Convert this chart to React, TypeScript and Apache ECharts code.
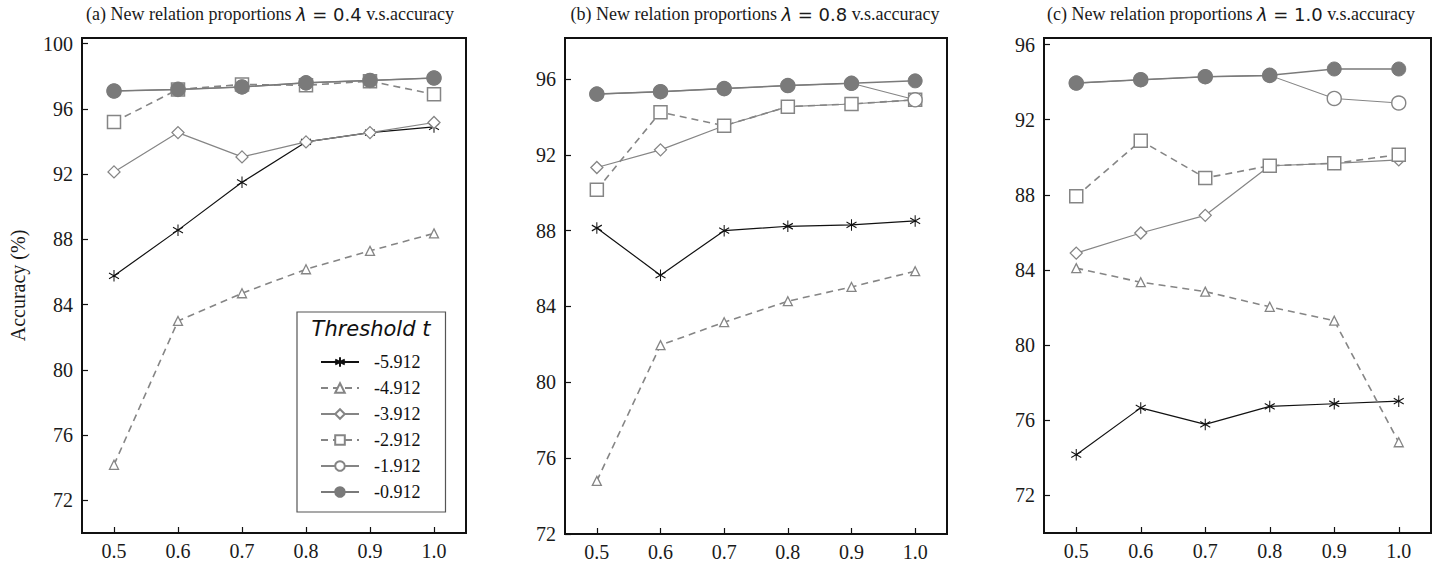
import React, { useEffect, useRef } from "react";
import * as echarts from "echarts";

// ---------- data ----------
const xValues = [0.5, 0.6, 0.7, 0.8, 0.9, 1.0];
const xTicks = [0.5, 0.6, 0.7, 0.8, 0.9, 1.0];
const seriesNames = ["-5.912", "-4.912", "-3.912", "-2.912", "-1.912", "-0.912"];

// panel (a) lambda = 0.4
const a_t5912 = [85.77, 88.57, 91.5, 93.98, 94.55, 94.9];
const a_t4912 = [74.18, 83.0, 84.7, 86.17, 87.3, 88.37];
const a_t3912 = [92.14, 94.55, 93.06, 93.98, 94.55, 95.17];
const a_t2912 = [95.2, 97.2, 97.5, 97.45, 97.7, 96.9];
const a_t1912 = [97.1, 97.2, 97.35, 97.6, 97.75, 97.9];
const a_t0912 = [97.1, 97.2, 97.35, 97.6, 97.75, 97.9];

// panel (b) lambda = 0.8
const b_t5912 = [88.14, 85.65, 88.0, 88.23, 88.3, 88.51];
const b_t4912 = [74.8, 81.96, 83.17, 84.28, 85.03, 85.86];
const b_t3912 = [91.33, 92.26, 93.53, 94.54, 94.68, 94.9];
const b_t2912 = [90.16, 94.25, 93.53, 94.54, 94.68, 94.9];
const b_t1912 = [95.2, 95.33, 95.49, 95.65, 95.77, 94.9];
const b_t0912 = [95.2, 95.33, 95.49, 95.65, 95.77, 95.9];

// panel (c) lambda = 1.0
const c_t5912 = [74.17, 76.66, 75.78, 76.74, 76.88, 77.02];
const c_t4912 = [84.1, 83.35, 82.85, 82.04, 81.3, 74.83];
const c_t3912 = [84.9, 85.97, 86.91, 89.55, 89.68, 89.86];
const c_t2912 = [87.92, 90.88, 88.9, 89.55, 89.68, 90.14];
const c_t1912 = [93.95, 94.13, 94.29, 94.36, 93.13, 92.89];
const c_t0912 = [93.95, 94.13, 94.29, 94.36, 94.7, 94.7];

const yTicksA = [72, 76, 80, 84, 88, 92, 96, 100];
const yTicksB = [72, 76, 80, 84, 88, 92, 96];
const yTicksC = [72, 76, 80, 84, 88, 92, 96];

const panelLetters = ["(a)", "(b)", "(c)"];
const lambdaLabels = ["0.4", "0.8", "1.0"];
const yAxisTitle = "Accuracy (%)";
const legendTitle = "Threshold t";

// ---------- layout / style ----------
const SERIF = "Liberation Serif";
const SANS = "DejaVu Sans";

const panels = [
  { left: 82, top: 38, width: 384, height: 495, yMin: 70, yMax: 100.35, yTicks: yTicksA, series: [a_t5912, a_t4912, a_t3912, a_t2912, a_t1912, a_t0912], titleX: 270 },
  { left: 565, top: 38, width: 382, height: 496, yMin: 72, yMax: 98.16, yTicks: yTicksB, series: [b_t5912, b_t4912, b_t3912, b_t2912, b_t1912, b_t0912], titleX: 755 },
  { left: 1044, top: 38, width: 387, height: 495, yMin: 70, yMax: 96.35, yTicks: yTicksC, series: [c_t5912, c_t4912, c_t3912, c_t2912, c_t1912, c_t0912], titleX: 1231 },
];

const ASTERISK = "path://M10,0L10,20M1.34,5L18.66,15M1.34,15L18.66,5";
const GREY = "#858585";
const DARKGREY = "#7a7a7a";

const styles = [
  { symbol: ASTERISK, symbolSize: [10, 11.5], line: { color: "#111", width: 1.2, type: "solid" }, item: { color: "#111", borderColor: "#111", borderWidth: 1.1 } },
  { symbol: "triangle", symbolSize: 9, line: { color: GREY, width: 1.6, type: [7, 5] }, item: { color: "#fff", borderColor: GREY, borderWidth: 1.3 } },
  { symbol: "diamond", symbolSize: 12, line: { color: GREY, width: 1.2, type: "solid" }, item: { color: "#fff", borderColor: GREY, borderWidth: 1.3 } },
  { symbol: "rect", symbolSize: 13, line: { color: GREY, width: 1.6, type: [7, 5] }, item: { color: "#fff", borderColor: GREY, borderWidth: 1.5 } },
  { symbol: "circle", symbolSize: 14, line: { color: GREY, width: 1.1, type: "solid" }, item: { color: "#fff", borderColor: GREY, borderWidth: 1.4 } },
  { symbol: "circle", symbolSize: 14, line: { color: DARKGREY, width: 1.5, type: "solid" }, item: { color: DARKGREY, borderColor: DARKGREY, borderWidth: 1 } },
];

export default function App() {
  const ref = useRef<HTMLDivElement>(null);

  useEffect(() => {
    document.body.style.margin = "0";
    if (!ref.current) return;
    const chart = echarts.init(ref.current, null, { renderer: "svg" });

    const grids = panels.map((p) => ({
      left: p.left,
      top: p.top,
      width: p.width,
      height: p.height,
      show: true,
      borderColor: "#111",
      borderWidth: 2,
      backgroundColor: "transparent",
    }));

    const xAxes = panels.map((p, i) => ({
      type: "value",
      gridIndex: i,
      min: 0.45,
      max: 1.05,
      splitLine: { show: false },
      axisLine: { show: false },
      axisTick: { show: true, inside: true, length: 6, lineStyle: { color: "#111", width: 1.2 }, customValues: xTicks },
      axisLabel: {
        customValues: xTicks,
        formatter: (v: number) => v.toFixed(1),
        fontFamily: SERIF,
        fontSize: 20,
        color: "#1a1a1a",
        margin: 8,
      },
    }));

    const yAxes = panels.map((p, i) => ({
      type: "value",
      gridIndex: i,
      min: p.yMin,
      max: p.yMax,
      splitLine: { show: false },
      axisLine: { show: false },
      axisTick: { show: true, inside: true, length: 6, lineStyle: { color: "#111", width: 1.2 }, customValues: p.yTicks },
      axisLabel: {
        customValues: p.yTicks,
        fontFamily: SERIF,
        fontSize: 20,
        color: "#1a1a1a",
        margin: 9,
      },
      name: i === 0 ? yAxisTitle : "",
      nameLocation: "middle",
      nameGap: 54,
      nameTextStyle: { fontFamily: SERIF, fontSize: 20, color: "#1a1a1a" },
    }));

    const series: any[] = [];
    panels.forEach((p, pi) => {
      p.series.forEach((vals, si) => {
        const st = styles[si];
        series.push({
          type: "line",
          name: seriesNames[si],
          xAxisIndex: pi,
          yAxisIndex: pi,
          data: xValues.map((x, k) => [x, vals[k]]),
          symbol: st.symbol,
          symbolSize: st.symbolSize,
          showSymbol: true,
          lineStyle: st.line,
          itemStyle: st.item,
          z: 2 + si,
          emphasis: { disabled: true },
          silent: true,
        });
      });
    });

    const titles: any[] = panels.map((p, i) => ({
      text: `{s|${panelLetters[i]} New relation proportions }{l|λ}{m| = ${lambdaLabels[i]}}{s| v.s.accuracy}`,
      left: p.titleX,
      top: 5,
      textAlign: "center",
      padding: 0,
      textStyle: {
        fontWeight: "normal",
        rich: {
          s: { fontFamily: SERIF, fontWeight: "normal", fontSize: 18, color: "#1a1a1a" },
          l: { fontFamily: SANS, fontStyle: "italic", fontWeight: "normal", fontSize: 18, color: "#1a1a1a" },
          m: { fontFamily: SANS, fontWeight: "normal", fontSize: 18, color: "#1a1a1a" },
        },
      },
    }));
    titles.push({
      text: legendTitle,
      left: 371,
      top: 318,
      textAlign: "center",
      padding: 0,
      z: 20,
      textStyle: { fontFamily: SANS, fontStyle: "italic", fontWeight: "normal", fontSize: 21, color: "#111" },
    });

    chart.setOption({
      animation: false,
      backgroundColor: "#fff",
      title: titles,
      grid: grids,
      xAxis: xAxes,
      yAxis: yAxes,
      legend: {
        data: seriesNames,
        orient: "vertical",
        left: 297,
        top: 312,
        itemWidth: 38,
        itemHeight: 12,
        itemGap: 6,
        padding: [40, 25, 10, 23],
        borderColor: "#555",
        borderWidth: 1.2,
        backgroundColor: "#fff",
        selectedMode: false,
        z: 10,
        textStyle: { fontFamily: SERIF, fontSize: 18, color: "#111", lineHeight: 20, padding: [0, 0, 0, 10] },
      },
      series,
    });

    return () => chart.dispose();
  }, []);

  return <div ref={ref} style={{ width: 1444, height: 567 }} />;
}
